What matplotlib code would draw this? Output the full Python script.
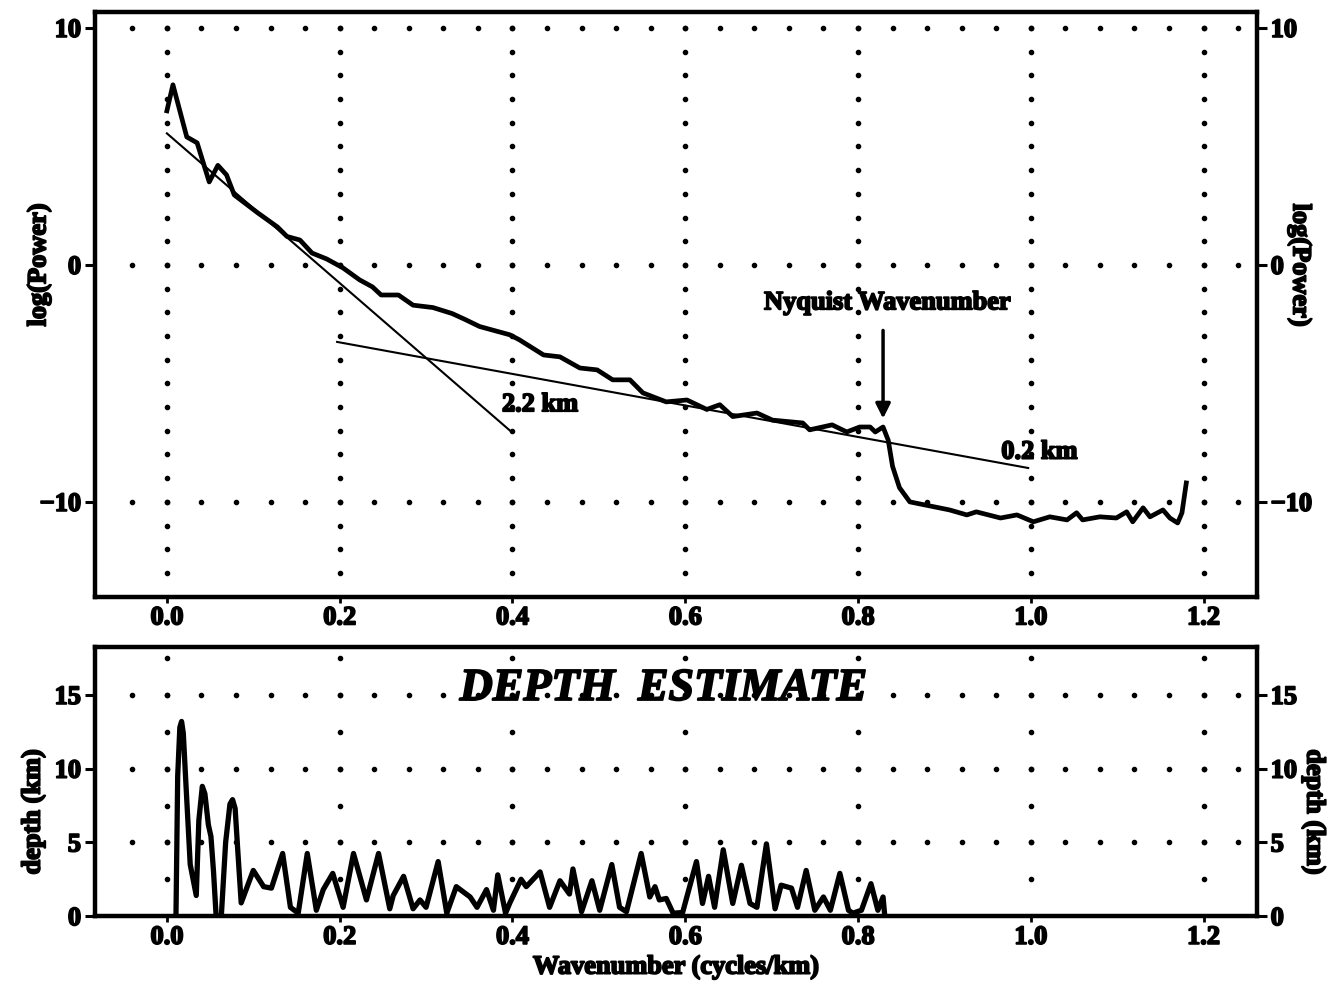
import matplotlib
matplotlib.use('Agg')
import matplotlib.pyplot as plt
import matplotlib.patheffects as pe
import numpy as np

plt.rcParams['font.family'] = ['Liberation Serif', 'DejaVu Serif']
plt.rcParams['font.weight'] = 'bold'

# radially averaged power spectrum
wavenumber = [0.0, 0.007, 0.023, 0.035, 0.049, 0.059, 0.069, 0.078, 0.105, 0.128,
              0.139, 0.154, 0.168, 0.185, 0.204, 0.223, 0.238, 0.248, 0.268, 0.285,
              0.308, 0.330, 0.345, 0.362, 0.397, 0.408, 0.436, 0.455, 0.478, 0.498,
              0.516, 0.536, 0.551, 0.578, 0.602, 0.625, 0.640, 0.655, 0.683, 0.701,
              0.736, 0.744, 0.770, 0.787, 0.802, 0.814, 0.820, 0.829, 0.835, 0.840,
              0.848, 0.860, 0.883, 0.906, 0.926, 0.937, 0.965, 0.984, 1.003, 1.022,
              1.042, 1.053, 1.060, 1.080, 1.099, 1.111, 1.118, 1.130, 1.138, 1.153,
              1.161, 1.170, 1.175, 1.180]
log_power = [6.5, 7.6, 5.4, 5.15, 3.5, 4.2, 3.8, 2.95, 2.2, 1.6,
             1.2, 1.05, 0.5, 0.25, -0.13, -0.63, -0.93, -1.27, -1.27, -1.7,
             -1.8, -2.05, -2.3, -2.6, -2.95, -3.16, -3.8, -3.88, -4.35, -4.43,
             -4.85, -4.85, -5.4, -5.78, -5.7, -6.1, -5.9, -6.4, -6.25, -6.55,
             -6.67, -6.96, -6.75, -7.05, -6.84, -6.84, -7.05, -6.84, -7.4, -8.5,
             -9.4, -10.0, -10.17, -10.34, -10.55, -10.42, -10.68, -10.55, -10.84, -10.63,
             -10.76, -10.46, -10.76, -10.63, -10.68, -10.42, -10.84, -10.25, -10.63, -10.34,
             -10.68, -10.89, -10.46, -9.2]

# straight-line fits to the two spectral segments
deep_fit_k = [0.0, 0.399]
deep_fit_p = [5.55, -7.05]
shallow_fit_k = [0.197, 0.997]
shallow_fit_p = [-3.25, -8.57]
nyquist_k = 0.829

# depth estimate along the spectrum
depth_k = [0.0105, 0.0125, 0.015, 0.017, 0.019, 0.022, 0.027, 0.034, 0.037, 0.041,
           0.044, 0.048, 0.051, 0.054, 0.057, 0.063, 0.068, 0.073, 0.076, 0.079,
           0.082, 0.086, 0.100,
           0.112, 0.121, 0.134, 0.143, 0.152, 0.1625, 0.173, 0.181, 0.192, 0.204,
           0.216, 0.231, 0.245, 0.258, 0.262, 0.274, 0.285, 0.293, 0.300, 0.314,
           0.324, 0.335, 0.351, 0.359, 0.370, 0.378, 0.383, 0.392, 0.397, 0.410,
           0.416, 0.432, 0.443, 0.455, 0.466, 0.470, 0.480, 0.492, 0.501, 0.515,
           0.524, 0.532, 0.549, 0.559, 0.565, 0.570, 0.578, 0.586, 0.597, 0.613,
           0.620, 0.627, 0.634, 0.644, 0.655, 0.665, 0.675, 0.683, 0.694, 0.704,
           0.711, 0.723, 0.730, 0.740, 0.750, 0.760, 0.768, 0.779, 0.789, 0.794,
           0.804, 0.815, 0.823, 0.829, 0.831]
depth_km = [0.0, 9.5, 12.8, 13.2, 12.4, 9.0, 3.5, 1.4, 6.5, 8.8,
            8.3, 6.2, 5.4, 3.0, 0.0, 0.0, 5.0, 7.6, 7.9, 7.3,
            4.5, 0.9, 3.1,
            2.0, 1.9, 4.25, 0.6, 0.2, 4.25, 0.4, 1.8, 2.9, 0.6,
            4.25, 1.1, 4.25, 0.5, 1.4, 2.7, 0.5, 1.1, 0.6, 3.7,
            0.2, 2.0, 1.3, 0.6, 1.8, 0.4, 2.8, 0.2, 0.9, 2.5,
            2.0, 3.0, 0.6, 2.4, 1.5, 3.2, 0.3, 2.4, 0.4, 3.5,
            0.6, 0.3, 4.25, 1.3, 2.0, 1.1, 1.2, 0.2, 0.25, 3.7,
            0.86, 2.7, 0.6, 4.5, 0.86, 3.45, 0.86, 0.6, 4.9, 0.5,
            2.1, 1.9, 0.6, 3.1, 0.4, 1.3, 0.4, 2.9, 0.4, 0.2,
            0.4, 2.2, 0.4, 1.3, 0.0]

x_ticks = [0.0, 0.2, 0.4, 0.6, 0.8, 1.0, 1.2]
power_ticks = [-10, 0, 10]
depth_ticks = [0, 5, 10, 15]

XLIM = (-0.0833, 1.2616)
TICK_FS = 19
LABEL_FS = 19
# heavy ink look for all lettering
ink = [pe.withStroke(linewidth=1.3, foreground='k')]


def dotted_grid(ax, xs, ys, ylo, yhi, ystep):
    # dotted gridlines: dots every 0.04 along rows, every ystep along columns
    row_x = np.arange(-0.04, 1.2401, 0.04)
    col_y = np.arange(ylo, yhi + 1e-6, ystep)
    for y in ys:
        ax.plot(row_x, np.full(len(row_x), y), ls='none', marker='o', ms=3,
                color='k', zorder=1)
    for x in xs:
        ax.plot(np.full(len(col_y), x), col_y, ls='none', marker='o', ms=3,
                color='k', zorder=1)


def style_axes(ax, yticks):
    for s in ax.spines.values():
        s.set_linewidth(3.2)
    ax.set_xlim(*XLIM)
    ax.set_xticks(x_ticks)
    ax.set_xticklabels([f'{v:.1f}' for v in x_ticks])
    ax.set_yticks(yticks)
    ax.tick_params(axis='y', left=True, right=True, labelleft=True, labelright=True,
                   direction='out', length=7, width=2.2, pad=3, labelsize=TICK_FS)
    ax.tick_params(axis='x', direction='out', length=4, width=2, pad=3,
                   labelsize=TICK_FS)
    for lab in ax.get_xticklabels() + ax.get_yticklabels():
        lab.set_path_effects(ink)
    for t in ax.yaxis.get_major_ticks():
        t.label2.set_path_effects(ink)


def label(ax, x, y, s, **kw):
    kw.setdefault('fontsize', LABEL_FS)
    return ax.text(x, y, s, ha='center', va='center', path_effects=ink, **kw)


fig = plt.figure(figsize=(13.37, 9.83), dpi=100)
ax1 = fig.add_axes([0.071, 0.393, 0.869, 0.595])
ax2 = fig.add_axes([0.071, 0.068, 0.869, 0.274])

# --- power spectrum panel ---
ax1.set_ylim(-14.0, 10.68)
dotted_grid(ax1, x_ticks, power_ticks, -13, 10, 1)
ax1.plot(wavenumber, log_power, color='k', lw=3.4, solid_joinstyle='round', zorder=3)
ax1.plot(deep_fit_k, deep_fit_p, color='k', lw=1.5, zorder=2)
ax1.plot(shallow_fit_k, shallow_fit_p, color='k', lw=1.5, zorder=2)
ax1.annotate('', xy=(nyquist_k, -6.6), xytext=(nyquist_k, -2.65),
             arrowprops=dict(arrowstyle='-|>', color='k', lw=2.5, mutation_scale=22))
label(ax1, nyquist_k + 0.005, -1.6, 'Nyquist Wavenumber')
label(ax1, 0.432, -5.9, '2.2 km')
label(ax1, 1.010, -7.9, '0.2 km')
style_axes(ax1, power_ticks)
label(ax1, -0.048, 0.567, 'log(Power)', transform=ax1.transAxes, rotation=90)
label(ax1, 1.037, 0.567, 'log(Power)', transform=ax1.transAxes, rotation=-90)

# --- depth estimate panel ---
ax2.set_ylim(0, 18.26)
dotted_grid(ax2, x_ticks, [5, 10, 15], 2.5, 17.5, 2.5)
ax2.plot(depth_k, depth_km, color='k', lw=3.8, solid_joinstyle='round', zorder=3)
label(ax2, 0.575, 15.4, 'DEPTH  ESTIMATE', fontsize=33, fontstyle='italic',
      fontweight='heavy', zorder=4)
style_axes(ax2, depth_ticks)
label(ax2, -0.053, 0.387, 'depth (km)', transform=ax2.transAxes, rotation=90)
label(ax2, 1.049, 0.387, 'depth (km)', transform=ax2.transAxes, rotation=-90)
label(ax2, 0.5, -0.19, 'Wavenumber (cycles/km)', transform=ax2.transAxes)

fig.savefig('out.png', dpi=100)
